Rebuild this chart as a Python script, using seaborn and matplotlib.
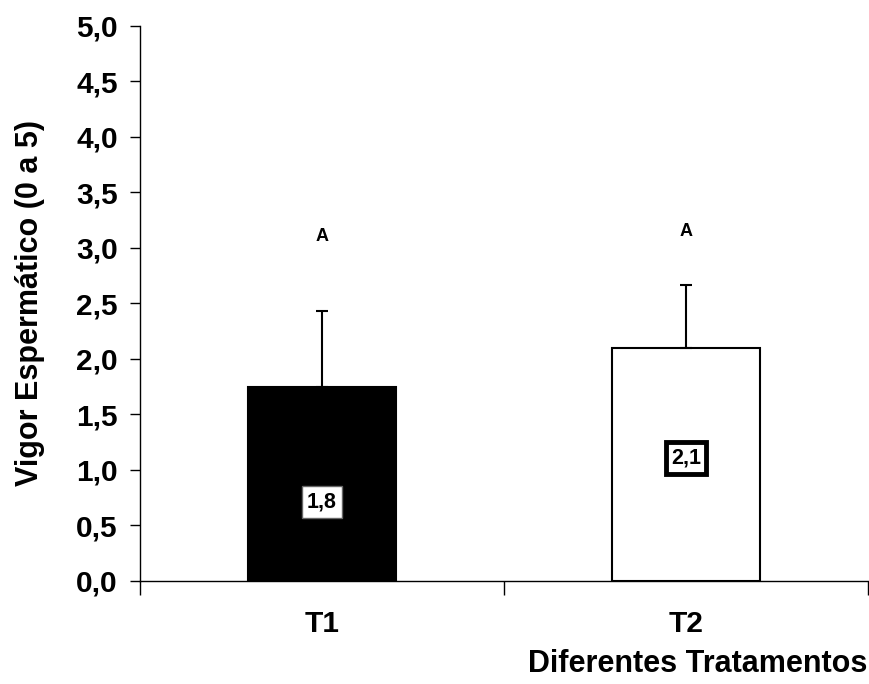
import matplotlib
matplotlib.use("Agg")
import matplotlib.pyplot as plt
import seaborn as sns
import pandas as pd

categories = ["T1", "T2"]
means = [1.75, 2.10]
errors = [0.68, 0.57]
value_labels = ["1,8", "2,1"]
label_y = [0.71, 1.11]
letters = ["A", "A"]
letter_y = [3.10, 3.15]
yticks = [0.0, 0.5, 1.0, 1.5, 2.0, 2.5, 3.0, 3.5, 4.0, 4.5, 5.0]
ytick_labels = ["0,0", "0,5", "1,0", "1,5", "2,0", "2,5", "3,0", "3,5", "4,0", "4,5", "5,0"]

sns.set_style("white")
plt.rcParams['font.family'] = ['Liberation Sans', 'DejaVu Sans']
plt.rcParams['text.color'] = 'black'
plt.rcParams['axes.labelcolor'] = 'black'
plt.rcParams['xtick.color'] = 'black'
plt.rcParams['ytick.color'] = 'black'

df = pd.DataFrame({"Tratamento": categories, "Vigor": means})

fig = plt.figure(figsize=(8.69, 6.84), dpi=100)
ax = fig.add_axes([0.1611, 0.1506, 0.8377, 0.8114])

sns.barplot(data=df, x="Tratamento", y="Vigor", hue="Tratamento",
            palette=["black", "white"], edgecolor="black", linewidth=1.5,
            width=0.405, errorbar=None, legend=False, ax=ax)

xs = list(range(len(categories)))
ax.errorbar(xs, means, yerr=[[0] * len(errors), errors], fmt="none",
            ecolor="black", elinewidth=1.5, capsize=4.5, capthick=1.5, zorder=1)

for x, v, ly in zip(xs, value_labels, label_y):
    lw = 1.0 if x == 0 else 3.5
    ec = "#666666" if x == 0 else "black"
    ax.text(x, ly, v, ha="center", va="center", fontsize=15.5, fontweight="bold",
            color="black",
            bbox=dict(boxstyle="square,pad=0.25", facecolor="white", edgecolor=ec, linewidth=lw))

for x, t, ty in zip(xs, letters, letter_y):
    ax.text(x, ty, t, ha="center", va="center", fontsize=13, fontweight="bold", color="black")

ax.set_xlim(-0.5, 1.5)
ax.set_ylim(0, 5)
ax.set_yticks(yticks)
ax.set_yticklabels(ytick_labels, fontsize=21.5, fontweight="bold", color="black")

ax.set_xticks([-0.5, 0.5, 1.5])
ax.set_xticklabels([])
ax.set_xticks(xs, minor=True)
ax.set_xticklabels(categories, minor=True, fontsize=21.5, fontweight="bold", color="black")
ax.tick_params(axis="x", which="major", direction="out", length=10, width=1, color="black", bottom=True)
ax.tick_params(axis="x", which="minor", length=0, pad=21)
ax.tick_params(axis="y", direction="out", length=7, width=1, color="black", left=True, pad=9)

ax.set_ylabel("Vigor Espermático (0 a 5)", fontsize=22, fontweight="bold", labelpad=22, color="black")
ax.set_xlabel("")
fig.text(0.998, 0.0175, "Diferentes Tratamentos", ha="right", va="baseline",
         fontsize=22, fontweight="bold", color="black")

sns.despine(ax=ax)
for s in ["left", "bottom"]:
    ax.spines[s].set_color("black")
    ax.spines[s].set_linewidth(1)

fig.savefig("out.png", dpi=100)
